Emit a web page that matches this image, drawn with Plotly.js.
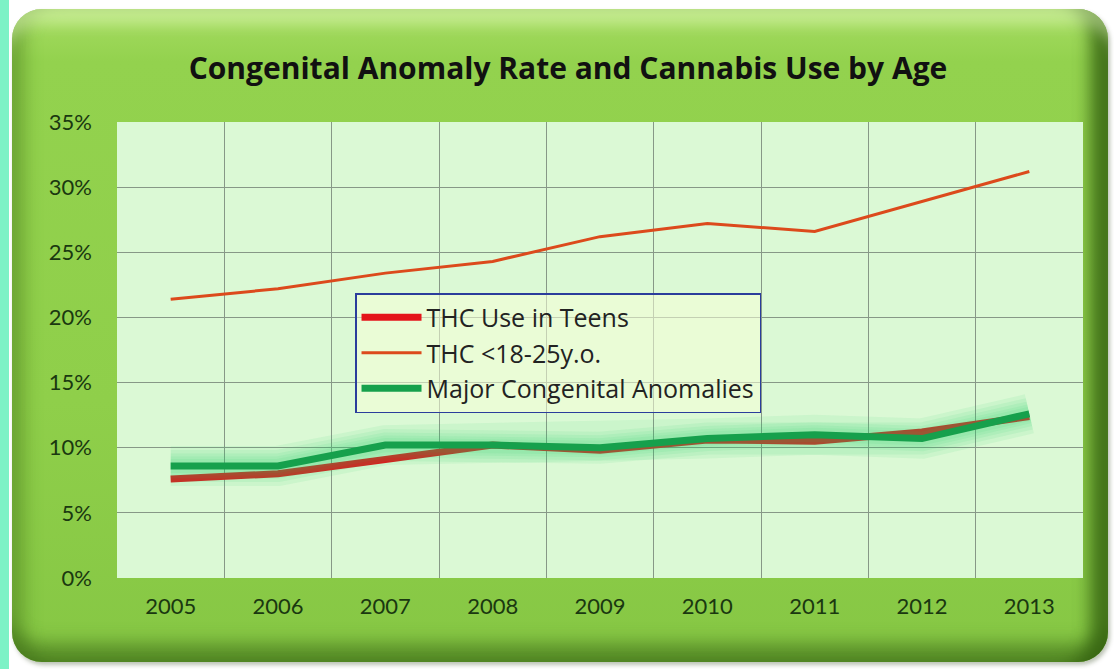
<!DOCTYPE html>
<html>
<head>
<meta charset="utf-8">
<script src="https://cdn.plot.ly/plotly-3.0.1.min.js"></script>
<style>
  html, body { margin:0; padding:0; background:#ffffff; width:1114px; height:669px; overflow:hidden; }
  #strip { position:absolute; left:0; top:0; width:9px; height:669px; background:#7df2c6; }
  #frame {
    position:absolute; left:12px; top:9px; width:1096px; height:653px;
    border-radius:30px;
    background: linear-gradient(180deg, #a6dc62 0%, #93d24e 8%, #8fcf4a 60%, #86c744 100%);
    box-shadow:
      inset 0 26px 14px -10px rgba(235,255,200,0.45),
      inset -26px 0 16px -8px rgba(50,95,15,0.8),
      inset 0 -26px 18px -8px rgba(55,100,20,0.6),
      inset 22px 0 16px -8px rgba(60,110,20,0.35),
      2px 3px 4px rgba(60,80,40,0.35);
  }
  #chart { position:absolute; left:0; top:0; width:1114px; height:669px; }
</style>
</head>
<body>
<div id="strip"></div>
<div id="frame"></div>
<div id="chart"></div>
<script>
// ---- data ----
const years = ["2005","2006","2007","2008","2009","2010","2011","2012","2013"];
const thcTeens = [7.6, 8.0, 9.1, 10.2, 9.8, 10.6, 10.5, 11.2, 12.4];
const thc18to25 = [21.4, 22.2, 23.4, 24.3, 26.2, 27.2, 26.6, 28.9, 31.2];
const majorAnomalies = [8.6, 8.6, 10.2, 10.2, 10.0, 10.7, 11.0, 10.7, 12.6];
const yTicks = [0, 5, 10, 15, 20, 25, 30, 35];
const seriesNames = ["THC Use in Teens", "THC <18-25y.o.", "Major Congenital Anomalies"];

const font = "Lato, 'Open Sans', sans-serif";
const wideFont = "'Open Sans', Lato, sans-serif";

const traces = [
  { x: years, y: thcTeens, name: seriesNames[0], mode: "lines",
    line: { color: "#e4141a", width: 7 } },
  { x: years, y: thc18to25, name: seriesNames[1], mode: "lines",
    line: { color: "#dc4a1c", width: 3 } }
];
// soft glow around the anomalies line (layered wide translucent strokes)
[40, 32, 25, 19, 14].forEach(w => {
  traces.push({ x: years, y: majorAnomalies, mode: "lines", showlegend: false, hoverinfo: "skip",
    line: { color: "rgba(40,205,100,0.085)", width: w } });
});
traces.push({ x: years, y: majorAnomalies, name: seriesNames[2], mode: "lines",
  line: { color: "#16a04c", width: 7 } });

const layout = {
  width: 1114, height: 669,
  paper_bgcolor: "rgba(0,0,0,0)",
  plot_bgcolor: "#dbf9d5",
  margin: { l: 117, r: 31, t: 122, b: 91 },
  title: {
    text: "<b>Congenital Anomaly Rate and Cannabis Use by Age</b>",
    font: { family: wideFont, size: 30, color: "#111" },
    x: 568/1114, xanchor: "center", xref: "container",
    y: 1 - 68/669, yanchor: "middle", yref: "container"
  },
  xaxis: {
    type: "category", range: [-0.5, 8.5], tickson: "boundaries",
    showgrid: true, gridcolor: "#879887", gridwidth: 1,
    ticks: "", showline: false, zeroline: false,
    tickfont: { family: font, size: 22, color: "#1a3810" },
    ticklabelstandoff: 13
  },
  yaxis: {
    range: [0, 35], tickvals: yTicks, ticktext: yTicks.map(v => v + "%"),
    showgrid: true, gridcolor: "#879887", gridwidth: 1,
    zeroline: false, showline: false, ticks: "",
    tickfont: { family: font, size: 22, color: "#1a3810" },
    ticklabelstandoff: 24
  },
  legend: {
    x: 0.2464, xanchor: "left", y: 0.625, yanchor: "top",
    bgcolor: "rgba(245,255,215,0.55)", bordercolor: "#2b3d9c", borderwidth: 1.5,
    font: { family: wideFont, size: 25, color: "#222" },
    traceorder: "normal", itemwidth: 60, entrywidth: 450, entrywidthmode: "pixels"
  },
  showlegend: true
};

Plotly.newPlot("chart", traces, layout, { displayModeBar: false, staticPlot: true });
</script>
</body>
</html>
